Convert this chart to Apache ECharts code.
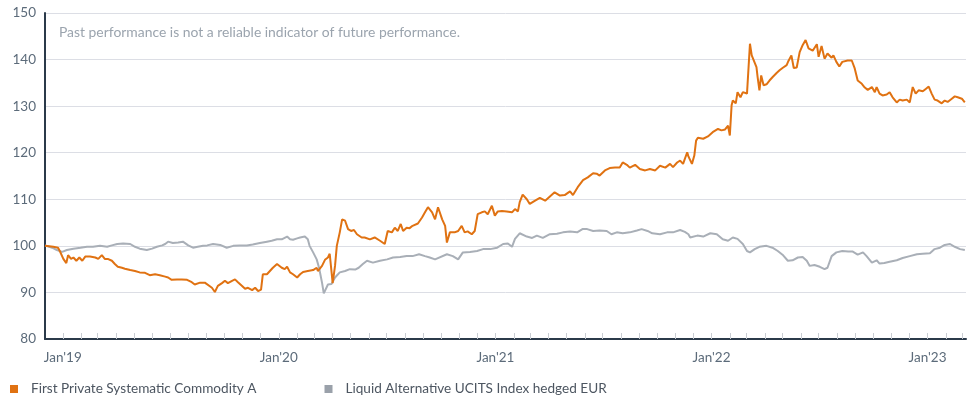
<!DOCTYPE html>
<html>
<head>
<meta charset="utf-8">
<script src="https://cdn.jsdelivr.net/npm/echarts@6/dist/echarts.min.js"></script>
<style>
  html, body { margin: 0; padding: 0; background: #fff; }
  #chart { width: 970px; height: 403px; }
</style>
</head>
<body>
<div id="chart"></div>
<script>
// fund: First Private Systematic Commodity A
const fundDates = [
  "2018-12-02","2018-12-16","2018-12-24","2018-12-27","2019-01-02","2019-01-07","2019-01-10","2019-01-15","2019-01-19","2019-01-24",
  "2019-01-29","2019-02-03","2019-02-08","2019-02-16","2019-02-25","2019-03-02","2019-03-08","2019-03-13","2019-03-18","2019-03-25",
  "2019-03-30","2019-04-04","2019-04-11","2019-04-16","2019-04-25","2019-05-03","2019-05-11","2019-05-20","2019-05-28","2019-06-06",
  "2019-06-14","2019-06-23","2019-06-28","2019-07-04","2019-07-13","2019-07-21","2019-07-30","2019-08-07","2019-08-12","2019-08-21",
  "2019-08-29","2019-09-01","2019-09-10","2019-09-15","2019-09-20","2019-09-27","2019-10-02","2019-10-07","2019-10-14","2019-10-19",
  "2019-10-24","2019-10-31","2019-11-05","2019-11-10","2019-11-17","2019-11-22","2019-11-27","2019-12-02","2019-12-05","2019-12-12",
  "2019-12-17","2019-12-22","2019-12-29","2019-12-31","2020-01-06","2020-01-11","2020-01-15","2020-01-20","2020-01-25","2020-02-01",
  "2020-02-06","2020-02-11","2020-02-19","2020-02-28","2020-03-05","2020-03-07","2020-03-14","2020-03-19","2020-03-24","2020-03-27",
  "2020-04-01","2020-04-05","2020-04-08","2020-04-13","2020-04-17","2020-04-22","2020-04-27","2020-05-02","2020-05-07","2020-05-12",
  "2020-05-20","2020-05-25","2020-06-03","2020-06-11","2020-06-20","2020-06-28","2020-07-03","2020-07-10","2020-07-15","2020-07-20",
  "2020-07-25","2020-07-29","2020-08-04","2020-08-09","2020-08-14","2020-08-23","2020-08-30","2020-09-04","2020-09-09","2020-09-16",
  "2020-09-21","2020-09-26","2020-10-03","2020-10-08","2020-10-11","2020-10-16","2020-10-24","2020-10-30","2020-11-05","2020-11-10",
  "2020-11-15","2020-11-22","2020-11-27","2020-12-02","2020-12-09","2020-12-14","2020-12-19","2020-12-26","2020-12-31","2021-01-05",
  "2021-01-12","2021-01-20","2021-01-29","2021-02-03","2021-02-08","2021-02-11","2021-02-16","2021-02-23","2021-02-28","2021-03-09",
  "2021-03-17","2021-03-26","2021-04-03","2021-04-11","2021-04-20","2021-04-28","2021-05-07","2021-05-12","2021-05-20","2021-05-29",
  "2021-06-06","2021-06-15","2021-06-21","2021-06-26","2021-07-05","2021-07-13","2021-07-22","2021-07-30","2021-08-04","2021-08-11",
  "2021-08-16","2021-08-25","2021-09-02","2021-09-11","2021-09-19","2021-09-28","2021-10-06","2021-10-15","2021-10-23","2021-10-28",
  "2021-11-04","2021-11-09","2021-11-14","2021-11-21","2021-11-23","2021-11-26","2021-11-29","2021-12-03","2021-12-06","2021-12-09",
  "2021-12-18","2021-12-26","2022-01-03","2022-01-12","2022-01-18","2022-01-24","2022-01-29","2022-02-01","2022-02-04","2022-02-06",
  "2022-02-11","2022-02-14","2022-02-19","2022-02-23","2022-03-02","2022-03-03","2022-03-07","2022-03-10","2022-03-13","2022-03-18",
  "2022-03-20","2022-03-23","2022-03-26","2022-03-30","2022-04-04","2022-04-09","2022-04-14","2022-04-21","2022-04-26","2022-05-01",
  "2022-05-08","2022-05-11","2022-05-16","2022-05-20","2022-05-25","2022-05-30","2022-06-04","2022-06-09","2022-06-14","2022-06-21",
  "2022-06-28","2022-07-01","2022-07-06","2022-07-11","2022-07-16","2022-07-23","2022-07-26","2022-07-31","2022-08-05","2022-08-10",
  "2022-08-19","2022-08-26","2022-08-31","2022-09-05","2022-09-12","2022-09-17","2022-09-22","2022-09-29","2022-10-04","2022-10-07",
  "2022-10-12","2022-10-17","2022-10-24","2022-10-29","2022-11-03","2022-11-10","2022-11-15","2022-11-20","2022-11-27","2022-12-02",
  "2022-12-07","2022-12-12","2022-12-17","2022-12-24","2022-12-29","2023-01-03","2023-01-08","2023-01-13","2023-01-18","2023-01-25",
  "2023-01-30","2023-02-04","2023-02-11","2023-02-16","2023-02-21","2023-02-28","2023-03-05"
];
const fundValues = [
  100.0, 99.8, 99.6, 98.9, 97.2, 96.3, 98.0, 97.2, 97.5, 96.8,
  97.5, 96.8, 97.7, 97.7, 97.5, 97.2, 98.0, 97.2, 97.2, 96.8,
  96.1, 95.5, 95.3, 95.1, 94.8, 94.6, 94.3, 94.2, 93.7, 93.9,
  93.7, 93.4, 93.2, 92.7, 92.8, 92.8, 92.7, 92.2, 91.7, 92.1,
  92.1, 91.7, 91.0, 90.1, 91.4, 92.0, 92.5, 92.0, 92.5, 92.8,
  92.2, 91.4, 90.8, 91.0, 90.5, 91.0, 90.3, 90.6, 93.9, 93.9,
  94.6, 95.3, 96.1, 96.4, 95.3, 95.0, 95.5, 94.3, 93.9, 93.2,
  93.9, 94.4, 94.6, 94.8, 95.3, 94.6, 95.7, 97.0, 97.5, 98.3,
  92.0, 95.7, 100.0, 102.9, 105.7, 105.4, 103.6, 103.2, 103.4, 102.5,
  101.8, 101.8, 101.4, 101.8, 101.1, 100.4, 103.2, 102.9, 103.9, 103.2,
  104.7, 103.2, 103.9, 103.8, 104.3, 104.8, 106.1, 107.2, 108.3, 107.2,
  105.7, 108.3, 105.7, 104.3, 100.7, 102.9, 102.9, 103.2, 104.3, 102.9,
  103.1, 102.5, 103.2, 106.8, 107.2, 107.4, 106.8, 108.6, 106.5, 107.4,
  107.5, 107.4, 107.2, 107.9, 107.4, 109.4, 111.0, 110.0, 109.0, 109.7,
  110.3, 109.7, 110.6, 111.5, 110.8, 110.9, 111.7, 110.9, 112.6, 114.1,
  114.7, 115.6, 115.5, 115.1, 116.2, 116.7, 116.8, 116.8, 117.9, 117.4,
  116.8, 117.4, 116.5, 116.2, 116.5, 116.2, 117.2, 116.8, 117.6, 116.9,
  117.9, 118.3, 117.6, 120.1, 119.2, 119.4, 117.6, 119.4, 122.6, 123.2,
  123.0, 123.5, 124.4, 125.1, 124.8, 125.0, 125.8, 123.7, 130.2, 131.2,
  130.6, 133.0, 131.9, 133.0, 132.7, 133.0, 143.4, 140.9, 141.3, 138.4,
  136.2, 133.4, 136.6, 134.5, 134.7, 135.5, 136.2, 137.1, 137.7, 138.2,
  138.8, 139.7, 140.9, 138.2, 138.3, 141.6, 143.1, 144.2, 142.4, 141.9,
  143.3, 140.6, 142.9, 140.2, 141.3, 140.4, 140.9, 139.5, 138.5, 139.5,
  139.8, 139.8, 138.1, 135.5, 134.8, 134.0, 133.5, 134.1, 133.0, 134.1,
  132.7, 132.3, 132.5, 133.0, 131.9, 130.8, 131.4, 131.2, 131.4, 130.8,
  134.1, 132.7, 133.4, 133.2, 133.7, 134.2, 132.7, 131.4, 131.2, 130.6,
  131.2, 130.9, 131.6, 132.1, 131.9, 131.6, 130.8
];

// benchmark: Liquid Alternative UCITS Index hedged EUR
const indexDates = [
  "2018-12-02","2018-12-14","2018-12-22","2018-12-31","2019-01-08","2019-01-19","2019-01-31","2019-02-11","2019-02-21","2019-03-05",
  "2019-03-17","2019-03-25","2019-04-03","2019-04-13","2019-04-25","2019-05-03","2019-05-11","2019-05-23","2019-06-01","2019-06-09",
  "2019-06-18","2019-06-23","2019-06-28","2019-07-06","2019-07-15","2019-07-23","2019-08-01","2019-08-09","2019-08-17","2019-08-26",
  "2019-09-02","2019-09-12","2019-09-24","2019-10-05","2019-10-16","2019-10-27","2019-11-08","2019-11-18","2019-11-30","2019-12-12",
  "2019-12-20","2019-12-29","2020-01-06","2020-01-15","2020-01-20","2020-01-25","2020-02-01","2020-02-06","2020-02-14","2020-02-19",
  "2020-02-22","2020-02-28","2020-03-05","2020-03-09","2020-03-14","2020-03-17","2020-03-20","2020-03-24","2020-03-30","2020-04-05",
  "2020-04-13","2020-04-22","2020-04-30","2020-05-09","2020-05-15","2020-05-22","2020-05-29","2020-06-08","2020-06-20","2020-07-02",
  "2020-07-12","2020-07-24","2020-08-04","2020-08-14","2020-08-25","2020-09-04","2020-09-12","2020-09-21","2020-10-11","2020-10-21",
  "2020-10-30","2020-11-07","2020-11-19","2020-12-01","2020-12-11","2020-12-23","2021-01-04","2021-01-14","2021-01-22","2021-01-29",
  "2021-02-03","2021-02-11","2021-02-23","2021-03-04","2021-03-12","2021-03-22","2021-04-03","2021-04-15","2021-04-25","2021-05-07",
  "2021-05-19","2021-05-28","2021-06-05","2021-06-15","2021-06-26","2021-07-08","2021-07-16","2021-07-25","2021-08-04","2021-08-16",
  "2021-08-28","2021-09-05","2021-09-15","2021-09-23","2021-10-06","2021-10-18","2021-10-28","2021-11-09","2021-11-17","2021-11-23",
  "2021-11-26","2021-12-08","2021-12-18","2021-12-30","2022-01-10","2022-01-20","2022-01-29","2022-02-06","2022-02-14","2022-02-23",
  "2022-03-02","2022-03-07","2022-03-15","2022-03-23","2022-04-04","2022-04-14","2022-04-23","2022-05-01","2022-05-10","2022-05-18",
  "2022-05-27","2022-06-04","2022-06-11","2022-06-16","2022-06-24","2022-07-03","2022-07-11","2022-07-16","2022-07-23","2022-07-31",
  "2022-08-10","2022-08-20","2022-08-27","2022-09-05","2022-09-14","2022-09-20","2022-09-29","2022-10-07","2022-10-12","2022-10-20",
  "2022-10-29","2022-11-10","2022-11-20","2022-12-02","2022-12-14","2022-12-24","2023-01-05","2023-01-13","2023-01-22","2023-01-30",
  "2023-02-08","2023-02-16","2023-02-25","2023-03-05"
];
const indexValues = [
  100.1, 99.6, 99.1, 98.7, 99.1, 99.4, 99.6, 99.8, 99.8, 100.0,
  99.8, 100.1, 100.4, 100.5, 100.4, 99.8, 99.4, 99.1, 99.4, 99.8,
  100.1, 100.4, 100.9, 100.6, 100.7, 100.9, 100.1, 99.6, 99.8, 100.0,
  100.1, 100.4, 100.2, 99.6, 100.0, 100.1, 100.1, 100.3, 100.6, 100.9,
  101.1, 101.4, 101.4, 102.0, 101.4, 101.3, 101.6, 101.8, 102.0, 101.4,
  100.0, 98.6, 97.1, 95.3, 92.1, 89.8, 90.0, 91.7, 91.8, 93.2,
  94.3, 94.6, 95.0, 94.9, 95.3, 96.1, 96.8, 96.4, 96.8, 97.1,
  97.5, 97.6, 97.8, 97.8, 98.2, 97.8, 97.5, 97.1, 98.2, 97.8,
  97.1, 98.6, 98.7, 98.9, 99.3, 99.3, 99.6, 100.4, 100.5, 99.8,
  101.5, 102.7, 102.0, 101.7, 102.2, 101.7, 102.5, 102.6, 102.9, 103.1,
  102.9, 103.6, 103.6, 103.2, 103.3, 103.2, 102.5, 102.9, 102.7, 102.9,
  103.3, 103.6, 103.2, 102.7, 102.5, 102.9, 102.9, 103.4, 103.0, 102.5,
  101.8, 102.2, 102.0, 102.7, 102.5, 101.4, 101.1, 101.8, 101.5, 100.4,
  98.9, 98.6, 99.3, 99.8, 100.0, 99.6, 98.9, 98.1, 96.8, 96.9,
  97.5, 97.6, 96.8, 95.7, 95.9, 95.5, 95.0, 95.3, 97.8, 98.6,
  98.9, 98.8, 98.8, 98.1, 98.6, 97.8, 96.4, 96.9, 96.2, 96.3,
  96.6, 96.9, 97.4, 97.8, 98.2, 98.3, 98.4, 99.3, 99.6, 100.2,
  100.4, 99.8, 99.3, 99.1
];

const yTicks = { min: 80, max: 150, step: 10 };
const xRange = { start: "2018-12-02", end: "2023-03-07" };

const seriesNames = [
  "First Private Systematic Commodity A",
  "Liquid Alternative UCITS Index hedged EUR"
];
const noteText = "Past performance is not a reliable indicator of future performance.";

const pair = (dates, values) => dates.map((d, i) => [d, values[i]]);
const DAY = 24 * 3600 * 1000;
const axisDark = "#2b3a4a";
const labelColor = "#5c6b7a";
const font = "Lato";

const myChart = echarts.init(document.getElementById("chart"), null, { renderer: "canvas" });
myChart.setOption({
  animation: false,
  backgroundColor: "#fff",
  title: {
    text: noteText,
    left: 54,
    top: 21,
    textStyle: { color: "#9ba4ae", fontSize: 13.9, fontWeight: "normal", fontFamily: font }
  },
  legend: {
    left: 5,
    bottom: 2,
    icon: "rect",
    itemWidth: 8,
    itemHeight: 8,
    itemGap: 68,
    textStyle: { color: "#4d5661", fontSize: 13.6, fontFamily: font, padding: [0, 0, 0, 8] },
    data: seriesNames
  },
  grid: { left: 45, right: 4, top: 13, bottom: 64, containLabel: false },
  xAxis: {
    type: "time",
    min: xRange.start,
    max: xRange.end,
    // one tick per month, labels only on January
    minInterval: 28 * DAY,
    maxInterval: 31 * DAY,
    axisLine: { show: true, lineStyle: { color: axisDark, width: 2 } },
    axisTick: { show: true, inside: true, length: 6, lineStyle: { color: "#c9cdd3", width: 1 } },
    splitLine: { show: false },
    axisLabel: {
      color: labelColor,
      fontSize: 13.5,
      fontFamily: font,
      margin: 12,
      hideOverlap: false,
      formatter: function (value) {
        const d = new Date(value);
        if (d.getMonth() === 0 && d.getDate() === 1) {
          return "Jan'" + String(d.getFullYear()).slice(2);
        }
        return "";
      }
    }
  },
  yAxis: {
    type: "value",
    min: yTicks.min,
    max: yTicks.max,
    interval: yTicks.step,
    axisLine: { show: true, lineStyle: { color: axisDark, width: 2 } },
    axisTick: { show: false },
    axisLabel: { color: labelColor, fontSize: 13.5, fontFamily: font, margin: 9 },
    splitLine: { show: true, lineStyle: { color: "#dcdee5", width: 1 } }
  },
  series: [
    {
      name: seriesNames[0],
      type: "line",
      data: pair(fundDates, fundValues),
      showSymbol: false,
      z: 4,
      itemStyle: { color: "#e07212" },
      lineStyle: { color: "#e07212", width: 2 }
    },
    {
      name: seriesNames[1],
      type: "line",
      data: pair(indexDates, indexValues),
      showSymbol: false,
      z: 3,
      itemStyle: { color: "#9aa1aa" },
      lineStyle: { color: "#a9afb7", width: 2 }
    }
  ]
});
</script>
</body>
</html>
